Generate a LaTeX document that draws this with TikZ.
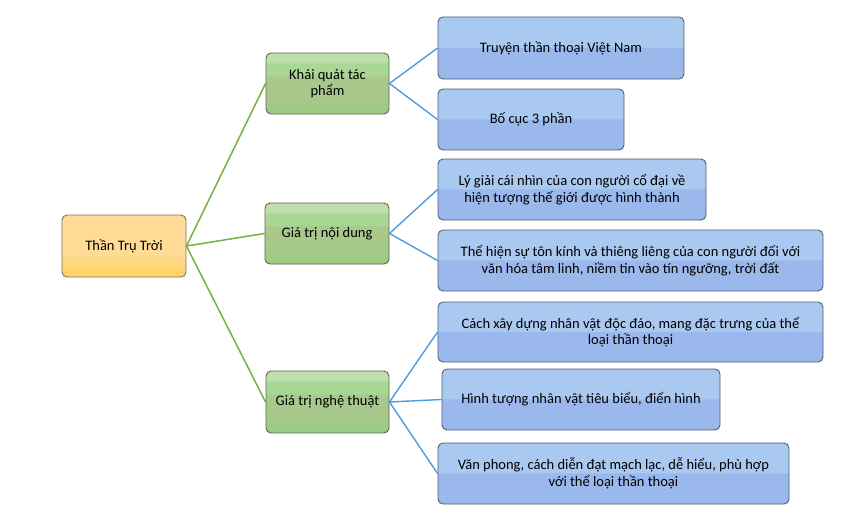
\documentclass[tikz,border=0pt]{standalone}
\usepackage{fontspec}
\setmainfont{Carlito}
\definecolor{leafA}{HTML}{AAC9F0}
\definecolor{leafB}{HTML}{9AB8EC}
\definecolor{leafline}{HTML}{4F5D70}
\definecolor{brA}{HTML}{BFE0AA}
\definecolor{brB}{HTML}{A9D896}
\definecolor{brC}{HTML}{A8C88C}
\definecolor{brD}{HTML}{9ECB84}
\definecolor{brline}{HTML}{5A6A52}
\definecolor{rootA}{HTML}{FFDB96}
\definecolor{rootB}{HTML}{FFD46C}
\definecolor{rootline}{HTML}{7A7060}
\definecolor{greenwire}{HTML}{77B142}
\definecolor{bluewire}{HTML}{4E9BE2}
\pgfdeclareverticalshading{leafshade}{100bp}{color(0bp)=(leafB); color(50bp)=(leafB);
  color(51bp)=(leafA); color(100bp)=(leafA)}
\pgfdeclareverticalshading{brshade}{100bp}{color(0bp)=(brD); color(32bp)=(brD);
  color(38bp)=(brC); color(55bp)=(brC); color(58bp)=(brB); color(66bp)=(brB);
  color(68bp)=(brA); color(100bp)=(brA)}
\pgfdeclareverticalshading{rootshade}{100bp}{color(0bp)=(rootB); color(30bp)=(rootB);
  color(45bp)=(rootA); color(100bp)=(rootA)}
\begin{document}
\begin{tikzpicture}[x = 1pt, y = -1pt,
    every node/.style = {shape = rectangle, rounded corners = 5pt, align = center,
                         font = \fontsize{14.5}{16.5}\selectfont, inner sep = 0pt,
                         line width = 0.9pt},
    root/.style   = {draw = rootline, shading = rootshade},
    branch/.style = {draw = brline, shading = brshade},
    leaf/.style   = {draw = leafline, shading = leafshade},
    gwire/.style  = {draw = greenwire, line width = 1.5pt},
    bwire/.style  = {draw = bluewire, line width = 1.4pt}]
  \useasboundingbox (0, 0) rectangle (842, 511);

  \node [root, minimum width = 124pt, minimum height = 62pt] (tru) at (124, 246) {Thần Trụ Trời};

  \node [branch, minimum width = 123pt, minimum height = 61pt] (kq) at (327.5, 83.5) {Khái quát tác\\phẩm};
  \node [branch, minimum width = 124pt, minimum height = 61pt] (nd) at (327, 233.5) {Giá trị nội dung};
  \node [branch, minimum width = 123pt, minimum height = 62pt] (nt) at (327.5, 402) {Giá trị nghệ thuật};

  \node [leaf, minimum width = 246pt, minimum height = 62pt] (kq1) at (561, 48) {Truyện thần thoại Việt Nam};
  \node [leaf, minimum width = 186pt, minimum height = 61pt] (kq2) at (531, 119.5) {Bố cục 3 phần};

  \node [leaf, minimum width = 268pt, minimum height = 61pt] (nd1) at (572, 189.5)
        {Lý giải cái nhìn của con người cổ đại về\\hiện tượng thế giới được hình thành};
  \node [leaf, minimum width = 385pt, minimum height = 61pt] (nd2) at (630.5, 260.5)
        {Thể hiện sự tôn kính và thiêng liêng của con người đối với\\văn hóa tâm linh, niềm tin vào tín ngưỡng, trời đất};

  \node [leaf, minimum width = 385pt, minimum height = 60pt] (nt1) at (630.5, 332)
        {Cách xây dựng nhân vật độc đáo, mang đặc trưng của thể\\loại thần thoại};
  \node [leaf, minimum width = 278pt, minimum height = 61pt] (nt2) at (581, 399.5)
        {Hình tượng nhân vật tiêu biểu, điển hình};
  \node [leaf, minimum width = 351pt, minimum height = 61pt] (nt3) at (613.5, 473.5)
        {Văn phong, cách diễn đạt mạch lạc, dễ hiểu, phù hợp\\với thể loại thần thoại};

  \draw [gwire] (tru.east) -- (kq.west)
                (tru.east) -- (nd.west)
                (tru.east) -- (nt.west);
  \draw [bwire] (kq.east) -- (kq1.west)
                (kq.east) -- (kq2.west)
                (nd.east) -- (nd1.west)
                (nd.east) -- (nd2.west)
                (nt.east) -- (nt1.west)
                (nt.east) -- (nt2.west)
                (nt.east) -- (nt3.west);
\end{tikzpicture}
\end{document}
